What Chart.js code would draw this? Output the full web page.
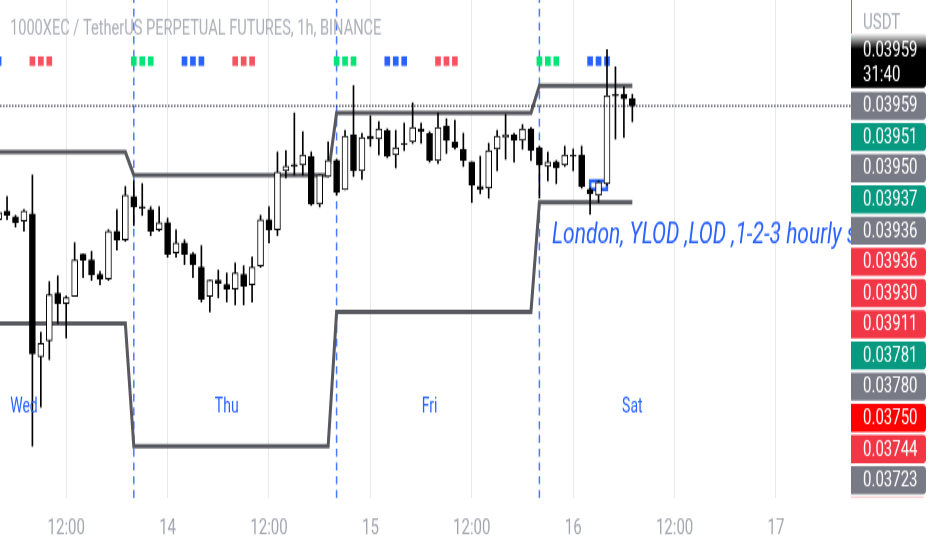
<!DOCTYPE html>
<html><head><meta charset="utf-8">
<script src="https://cdn.jsdelivr.net/npm/chart.js@4.4.1/dist/chart.umd.min.js"></script>
<style>html,body{margin:0;padding:0;background:#fff;overflow:hidden;width:932px;height:550px}
#c{display:block;transform:scaleY(1.447368);transform-origin:0 0}</style>
</head><body>
<canvas id="c" width="932" height="380"></canvas>
<script>
// ---------- data ----------
const title = '1000XEC / TetherUS PERPETUAL FUTURES, 1h, BINANCE';
const opens = [0.03880,0.03886,0.03882,0.03879,0.03884,0.03785,0.03796,0.03829,0.03822,0.03827,
0.03856,0.03852,0.03842,0.03839,0.03872,0.03866,0.03896,0.03889,0.03887,0.03873,
0.03878,0.03857,0.03864,0.03856,0.03847,0.03827,0.03838,0.03835,0.03832,0.03842,
0.03835,0.03848,0.03880,0.03873,0.03914,0.03918,0.03918,0.03924,0.03891,0.03910,
0.03921,0.03901,0.03939,0.03914,0.03938,0.03936,0.03942,0.03925,0.03933,0.03934,
0.03943,0.03940,0.03921,0.03945,0.03934,0.03929,0.03920,0.03903,0.03902,0.03929,
0.03937,0.03939,0.03935,0.03943,0.03930,0.03917,0.03920,0.03918,0.03925,0.03925,
0.03901,0.03897,0.03905,0.03967,0.03967,0.03964];
const highs = [0.03887,0.03896,0.03883,0.03887,0.03911,0.03802,0.03837,0.03841,0.03827,0.03864,
0.03856,0.03858,0.03844,0.03873,0.03887,0.03903,0.03907,0.03905,0.03889,0.03889,
0.03881,0.03873,0.03866,0.03857,0.03862,0.03838,0.03845,0.03843,0.03850,0.03848,
0.03854,0.03883,0.03889,0.03927,0.03928,0.03954,0.03941,0.03927,0.03911,0.03934,
0.03922,0.03942,0.03973,0.03940,0.03952,0.03948,0.03943,0.03942,0.03947,0.03961,
0.03947,0.03941,0.03954,0.03950,0.03949,0.03940,0.03920,0.03924,0.03933,0.03942,
0.03953,0.03940,0.03946,0.03944,0.03931,0.03927,0.03921,0.03931,0.03929,0.03931,
0.03902,0.03907,0.03998,0.03986,0.03972,0.03967];
const lows = [0.03877,0.03880,0.03875,0.03872,0.03723,0.03750,0.03783,0.03808,0.03798,0.03827,
0.03840,0.03838,0.03835,0.03838,0.03859,0.03865,0.03876,0.03883,0.03869,0.03872,
0.03854,0.03854,0.03849,0.03840,0.03823,0.03816,0.03826,0.03823,0.03821,0.03821,
0.03823,0.03847,0.03864,0.03869,0.03909,0.03911,0.03911,0.03890,0.03889,0.03910,
0.03897,0.03901,0.03910,0.03908,0.03931,0.03925,0.03923,0.03916,0.03928,0.03933,
0.03933,0.03920,0.03919,0.03926,0.03929,0.03917,0.03892,0.03898,0.03895,0.03914,
0.03922,0.03920,0.03929,0.03921,0.03895,0.03907,0.03905,0.03917,0.03914,0.03902,
0.03884,0.03892,0.03904,0.03936,0.03937,0.03948];
const closes = [0.03885,0.03883,0.03878,0.03886,0.03787,0.03794,0.03828,0.03822,0.03826,0.03852,
0.03852,0.03842,0.03839,0.03872,0.03866,0.03897,0.03889,0.03888,0.03872,0.03878,
0.03856,0.03864,0.03856,0.03849,0.03825,0.03838,0.03836,0.03832,0.03843,0.03834,
0.03847,0.03880,0.03873,0.03913,0.03917,0.03917,0.03925,0.03891,0.03911,0.03921,
0.03899,0.03938,0.03914,0.03937,0.03936,0.03943,0.03924,0.03930,0.03932,0.03944,
0.03941,0.03921,0.03944,0.03935,0.03930,0.03921,0.03904,0.03901,0.03928,0.03938,
0.03939,0.03935,0.03943,0.03928,0.03918,0.03920,0.03916,0.03925,0.03924,0.03903,
0.03898,0.03906,0.03966,0.03966,0.03964,0.03959];

// sessions (bar index of each session start) and previous-day high / low levels
const sessionStart = [-8, 16, 40, 64];
const levelUpper = [0.03927, 0.03911, 0.03954, 0.03973];
const levelLower = [0.03808, 0.03723, 0.03816, 0.03892];

// signal markers (bar indexes)
const markerRed = [4,5,6,28,29,30,52,53,54];
const markerGreen = [16,17,18,40,41,42,64,65,66];
const markerBlue = [-2,-1,0,22,23,24,46,47,48,70,71,72];
const markerBand = [0.03987, 0.03993];

// 1-2-3 box
const boxBar = 71, boxRange = [0.03900, 0.03908];

// labels
const dayLabels = ['Wed','Thu','Fri','Sat'];
const dayLabelIdx = [3, 27, 51, 75];
const dayLabelPrice = 0.03750;
const noteText = 'London, YLOD ,LOD ,1-2-3 hourly s';
const noteIdx = 65.5, notePrice = 0.03869;

// x-axis ticks
const tickIdx = [8, 20, 32, 44, 56, 68, 80, 92];
const tickLabels = ['12:00','14','12:00','15','12:00','16','12:00','17'];

// price-scale tags
const tagValues = [0.03959,0.03951,0.03950,0.03937,0.03936,0.03936,0.03930,0.03911,0.03781,0.03780,0.03750,0.03744,0.03723,0.03700];
const tagColors = ['#787b86','#089981','#787b86','#089981','#787b86','#f23645','#f23645','#f23645','#089981','#787b86','#ff0000','#f23645','#787b86','#f23645'];
const countdown = '31:40';

// view range
const xView = [0.166, 100.876];
const yView = [0.0368693, 0.040324];

// ---------- build datasets ----------
const idx = closes.map((_, i) => i);
const sessionOf = i => { let s = 0; sessionStart.forEach((v, k) => { if (v <= i) s = k; }); return s; };
const up = idx.map(i => closes[i] >= opens[i]);

const datasets = [];
datasets.push({ type:'line', order:-1, data:[{x:xView[0], y:closes[closes.length-1]},{x:xView[1], y:closes[closes.length-1]}],
  borderColor:'#131722', borderWidth:1, borderDash:[1.5,1.5], pointRadius:0 });
datasets.push({ type:'bar', order:0, grouped:false, barThickness:6, minBarLength:1,
  data: idx.map(i => ({x:i, y:[opens[i], closes[i]]})),
  backgroundColor: idx.map(i => up[i] ? '#ffffff' : '#000000'),
  borderColor:'#000000', borderWidth:1, borderSkipped:false });
datasets.push({ type:'bar', order:1, grouped:false, barThickness:1,
  data: idx.map(i => ({x:i, y:[lows[i], highs[i]]})), backgroundColor:'#000000', borderWidth:0 });
[[markerRed,'#f7525f'],[markerGreen,'#00e676'],[markerBlue,'#2962ff']].forEach(([arr,col]) => {
  datasets.push({ type:'bar', order:1, grouped:false, barThickness:5,
    data: arr.map(i => ({x:i, y:markerBand})), backgroundColor: col, borderWidth:0 });
});
datasets.push({ type:'bar', order:2, grouped:false, barThickness:19,
  data:[{x:boxBar, y:boxRange}], backgroundColor:'rgba(0,0,0,0)', borderColor:'#2962ff', borderWidth:2, borderSkipped:false });
[levelUpper, levelLower].forEach(lv => {
  datasets.push({ type:'line', order:3, data: idx.map(i => ({x:i, y: lv[sessionOf(i)]})),
    borderColor:'#58595f', borderWidth:3, pointRadius:0, tension:0 });
});
sessionStart.filter(s => s > 0).forEach(s => {
  datasets.push({ type:'line', order:4, data:[{x:s, y:yView[0]},{x:s, y:yView[1]}],
    borderColor:'rgba(41,98,255,0.85)', borderWidth:1.5, borderDash:[5.5,4], pointRadius:0 });
});

// ---------- overlay plugin (labels, price tags) ----------
function tagPath(ctx, x, y, w, h, r) {
  ctx.beginPath();
  ctx.moveTo(x, y); ctx.lineTo(x + w - r, y); ctx.quadraticCurveTo(x + w, y, x + w, y + r);
  ctx.lineTo(x + w, y + h - r); ctx.quadraticCurveTo(x + w, y + h, x + w - r, y + h);
  ctx.lineTo(x, y + h); ctx.closePath();
}
const overlay = {
  id:'overlay',
  afterDatasetsDraw(chart) {
    const {ctx, chartArea:a, scales:{x, y}} = chart;
    ctx.save();
    ctx.beginPath(); ctx.rect(a.left, a.top, a.right - a.left, a.bottom - a.top); ctx.clip();
    ctx.fillStyle = '#2962ff'; ctx.textBaseline = 'middle';
    ctx.font = '14px Roboto'; ctx.textAlign = 'center';
    dayLabels.forEach((t, k) => ctx.fillText(t, x.getPixelForValue(dayLabelIdx[k]), y.getPixelForValue(dayLabelPrice)));
    ctx.font = 'italic 21px Roboto'; ctx.textAlign = 'left';
    ctx.fillText(noteText, x.getPixelForValue(noteIdx), y.getPixelForValue(notePrice));
    ctx.font = '14.6px Roboto'; ctx.fillStyle = '#adb0b8';
    ctx.fillText(title, a.left + 10, 20.4);
    ctx.restore();

    // price scale
    ctx.save();
    ctx.beginPath(); ctx.rect(a.right, 0, chart.width - a.right, a.bottom); ctx.clip();
    ctx.fillStyle = '#26a69a'; ctx.fillRect(a.right, 0, 1, 23);
    ctx.font = '15px Roboto'; ctx.textBaseline = 'middle'; ctx.textAlign = 'left';
    ctx.fillStyle = '#a9acb5'; ctx.fillText('USDT', a.right + 12, 15.9);
    const h = 19.4, step = 21.56, w = 75;
    const c0 = y.getPixelForValue(tagValues[0]);
    const centers = tagValues.map((v, k) => c0 + k * step);
    // countdown tag
    const bBot = centers[0] - h / 2 - 2.7, bTop = bBot - 37.8;
    const g = ctx.createLinearGradient(0, bTop, 0, bTop + 11);
    g.addColorStop(0, '#ffffff'); g.addColorStop(1, '#000000');
    tagPath(ctx, a.right, bTop, w, bBot - bTop, 3); ctx.fillStyle = g; ctx.fill();
    ctx.fillStyle = '#ffffff';
    ctx.fillText(tagValues[0].toFixed(5), a.right + 12, bTop + 12.5);
    ctx.fillText(countdown, a.right + 12, bBot - 8.3);
    tagValues.forEach((v, k) => {
      tagPath(ctx, a.right, centers[k] - h / 2, w, h, 3);
      ctx.fillStyle = tagColors[k]; ctx.fill();
      ctx.fillStyle = '#ffffff';
      ctx.fillText(v.toFixed(5), a.right + 12, centers[k] + 0.5);
    });
    ctx.restore();
  }
};

new Chart(document.getElementById('c'), {
  data: { datasets },
  options: {
    responsive:false, maintainAspectRatio:false, devicePixelRatio:1, animation:false,
    layout:{ padding:0 },
    plugins:{ legend:{display:false}, tooltip:{enabled:false} },
    scales:{
      x:{ type:'linear', min:xView[0], max:xView[1], offset:false,
        afterBuildTicks: s => { s.ticks = tickIdx.map(v => ({value:v})); },
        ticks:{ callback:(v, i) => tickLabels[i], color:'#a3a6af', font:{family:'Roboto', size:15}, padding:12, maxRotation:0, autoSkip:false },
        grid:{ color:'#e8e9ed', lineWidth:1, drawTicks:false, offset:false },
        border:{ display:false },
        afterFit: s => { s.height = 35.93; } },
      y:{ type:'linear', position:'right', min:yView[0], max:yView[1],
        ticks:{ display:false }, grid:{ display:false }, border:{ display:false },
        afterFit: s => { s.width = 81; } }
    }
  },
  plugins:[overlay]
});
</script>
</body></html>
